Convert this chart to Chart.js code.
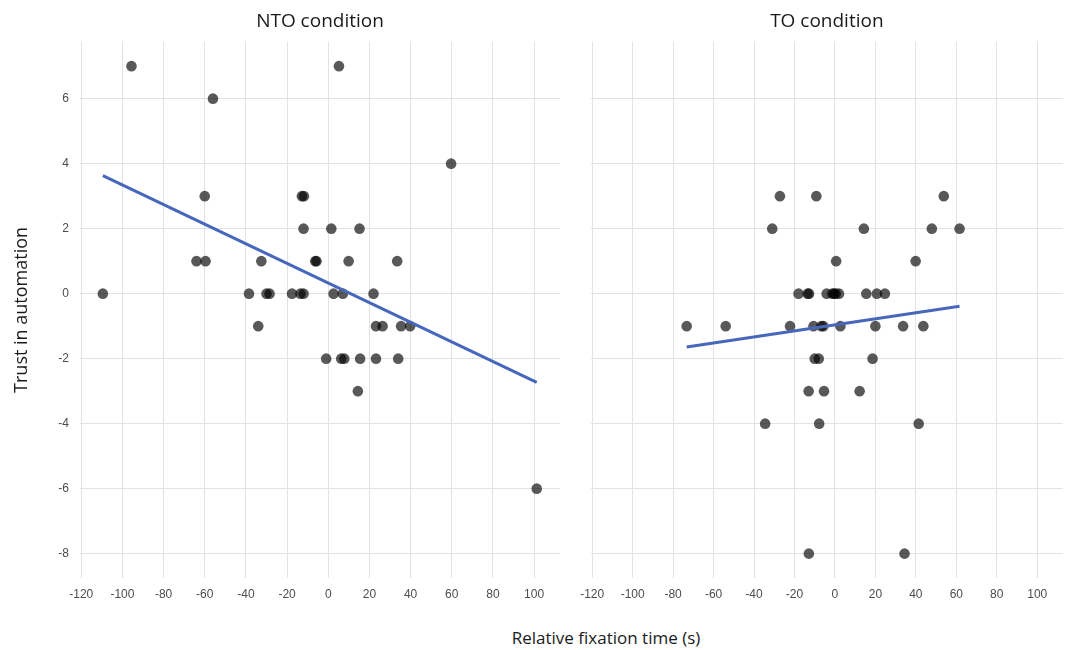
<!DOCTYPE html>
<html>
<head>
<meta charset="utf-8">
<script src="https://cdn.jsdelivr.net/npm/chart.js@4"></script>
<style>
  html, body { margin: 0; padding: 0; background: #fff; }
  body { width: 1068px; height: 650px; position: relative; overflow: hidden; }
  .panel { position: absolute; top: 0; height: 620px; }
  #left { left: 0; width: 566px; }
  #right { left: 566px; width: 502px; }
  #x-title {
    position: absolute; left: 406px; width: 400px; top: 626px;
    text-align: center; font: 17px "Open Sans", sans-serif; line-height: 24px; color: #1a1a1a;
  }
</style>
</head>
<body>
<div class="panel" id="left"><canvas id="nto-chart"></canvas></div>
<div class="panel" id="right"><canvas id="to-chart"></canvas></div>
<div id="x-title">Relative fixation time (s)</div>
<script>
(() => {
  // tick labels
  const xTicks = [-120, -100, -80, -60, -40, -20, 0, 20, 40, 60, 80, 100];
  const yTicks = [-8, -6, -4, -2, 0, 2, 4, 6];

  // NTO condition
  const ntoX = [
    -95.6, 5.2,
    -56,
    59.7,
    -60, -12.8, -11.8,
    -12, 1.5, 15.2,
    -64, -59.6, -32.5, -6.3, -5.7, 9.9, 33.5,
    -109.5, -38.5, -30, -28.5, -17.6, -13.5, -12, 2.6, 7.1, 22,
    -34, 23.2, 26.4, 35.4, 39.8,
    -1, 6.3, 7.8, 15.5, 23.2, 34,
    14.4,
    101.3,
  ];
  const ntoY = [
    7, 7,
    6,
    4,
    3, 3, 3,
    2, 2, 2,
    1, 1, 1, 1, 1, 1, 1,
    0, 0, 0, 0, 0, 0, 0, 0, 0, 0,
    -1, -1, -1, -1, -1,
    -2, -2, -2, -2, -2, -2,
    -3,
    -6,
  ];
  const ntoFitX = [-109.5, 101.3];
  const ntoFitY = [3.63, -2.73];

  // TO condition
  const toX = [
    -27.2, -9.2, 53.8,
    -31, 14.3, 47.9, 61.6,
    0.6, 39.9,
    -18, -13.5, -12.8, -4.1, -1.3, -0.4, 0.4, 2, 15.5, 20.7, 24.7,
    -73.3, -54, -22.2, -10.6, -6.7, -5.7, 2.7, 20, 33.7, 43.7,
    -10, -8, 18.6,
    -13, -5.4, 12.2,
    -34.5, -7.8, 41.4,
    -12.9, 34.4,
  ];
  const toY = [
    3, 3, 3,
    2, 2, 2, 2,
    1, 1,
    0, 0, 0, 0, 0, 0, 0, 0, 0, 0, 0,
    -1, -1, -1, -1, -1, -1, -1, -1, -1, -1,
    -2, -2, -2,
    -3, -3, -3,
    -4, -4, -4,
    -8, -8,
  ];
  const toFitX = [-73.3, 61.6];
  const toFitY = [-1.64, -0.39];

  const GRID = "#e2e2e2";
  const TICK = "#4d4d4d";
  const pairs = (xs, ys) => xs.map((x, i) => ({ x, y: ys[i] }));

  function makePanel(canvasId, title, xs, ys, fitX, fitY, showY) {
    const ctx = document.getElementById(canvasId).getContext("2d");
    return new Chart(ctx, {
      type: "scatter",
      data: {
        datasets: [
          {
            type: "line", data: pairs(fitX, fitY),
            borderColor: "#4667bb", borderWidth: 3, pointRadius: 0, fill: false, tension: 0,
          },
          {
            data: pairs(xs, ys),
            backgroundColor: "rgba(0,0,0,0.65)", borderWidth: 0, pointRadius: 5.3,
          },
        ],
      },
      options: {
        animation: false,
        responsive: true,
        maintainAspectRatio: false,
        layout: { padding: { left: 0, right: showY ? 6 : 0, top: 0, bottom: 0 } },
        plugins: {
          legend: { display: false },
          tooltip: { enabled: false },
          title: {
            display: true, text: title, fullSize: false,
            color: "#1a1a1a", font: { family: "Open Sans", size: 19, weight: "normal" },
            padding: { top: 10, bottom: 9 },
          },
        },
        scales: {
          x: {
            type: "linear", min: -120.6, max: 112.6,
            afterBuildTicks: s => { s.ticks = xTicks.map(v => ({ value: v })); },
            afterFit: s => { s.height = 42; },
            ticks: { color: TICK, padding: 9, font: { family: "Liberation Sans", size: 12 } },
            grid: { color: GRID, drawTicks: false },
            border: { display: false },
          },
          y: {
            type: "linear", min: -8.75, max: 7.75,
            afterBuildTicks: s => { s.ticks = yTicks.map(v => ({ value: v })); },
            afterFit: s => { s.width = showY ? 80 : 25; },
            ticks: { display: showY, color: TICK, padding: 11, font: { family: "Liberation Sans", size: 12 } },
            grid: { color: GRID, drawTicks: false },
            border: { display: false },
            title: {
              display: showY, text: "Trust in automation", color: "#1a1a1a",
              font: { family: "Open Sans", size: 18 }, padding: { top: 11 },
            },
          },
        },
      },
    });
  }

  makePanel("nto-chart", "NTO condition", ntoX, ntoY, ntoFitX, ntoFitY, true);
  makePanel("to-chart", "TO condition", toX, toY, toFitX, toFitY, false);
})();
</script>
</body>
</html>
